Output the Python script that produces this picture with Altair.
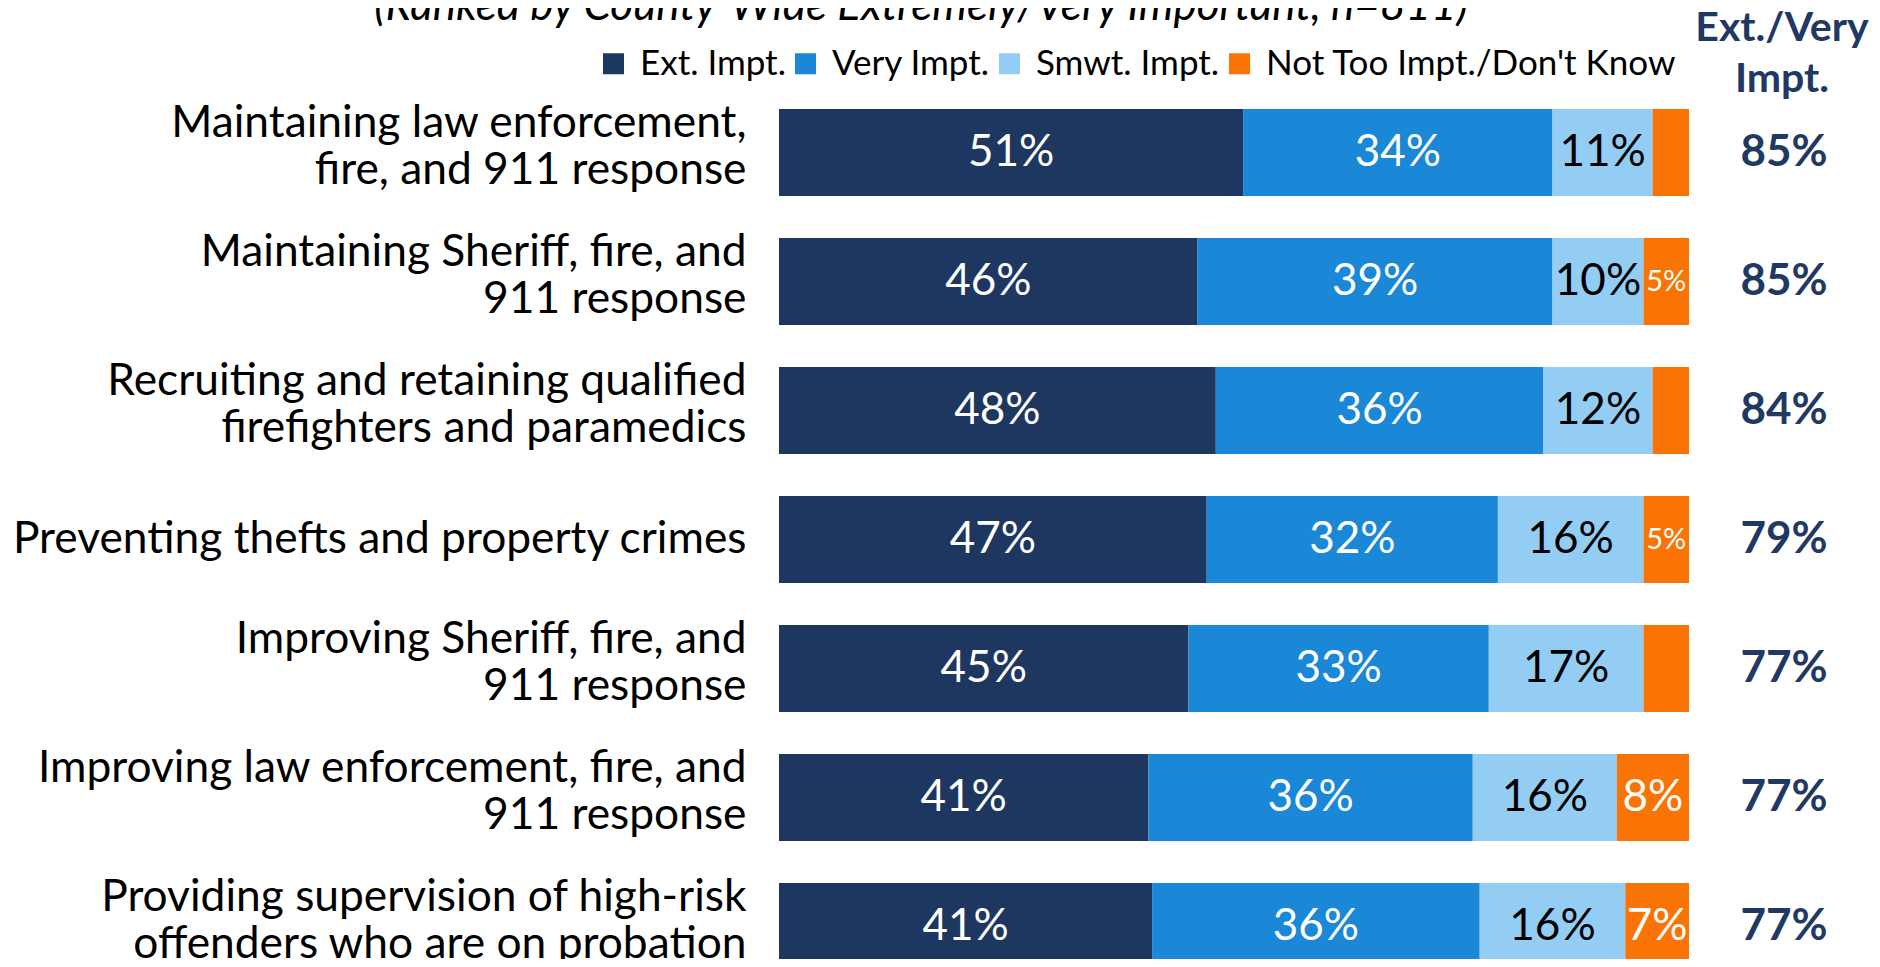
import altair as alt
import pandas as pd

categories = [
    "Maintaining law enforcement,\nfire, and 911 response",
    "Maintaining Sheriff, fire, and\n911 response",
    "Recruiting and retaining qualified\nfirefighters and paramedics",
    "Preventing thefts and property crimes",
    "Improving Sheriff, fire, and\n911 response",
    "Improving law enforcement, fire, and\n911 response",
    "Providing supervision of high-risk\noffenders who are on probation",
]
series_names = ["Ext. Impt.", "Very Impt.", "Smwt. Impt.", "Not Too Impt./Don't Know"]
ext_impt = [51, 46, 48, 47, 45, 41, 41]
very_impt = [34, 39, 36, 32, 33, 36, 36]
smwt_impt = [11, 10, 12, 16, 17, 16, 16]
not_too = [4, 5, 4, 5, 5, 8, 7]
not_too_labels = ["", "5%", "", "5%", "", "8%", "7%"]
ext_very_totals = [85, 85, 84, 79, 77, 77, 77]
title_text = "(Ranked by County-Wide Extremely/Very Important, n=811)"
header_text = "Ext./Very\nImpt."

bar_colors = ["#1E3760", "#1A88D7", "#93CDF3", "#FA7305"]
label_colors = ["#FFFFFF", "#FFFFFF", "#000000", "#FFFFFF"]
NAVY = "#1F3864"
FONT = "Lato"

rows = []
series_values = [ext_impt, very_impt, smwt_impt, not_too]
for i, cat in enumerate(categories):
    for j, name in enumerate(series_names):
        v = series_values[j][i]
        lab = not_too_labels[i] if j == 3 else f"{v}%"
        rows.append({"category": cat, "series": name, "order": j, "value": v, "label": lab})
df = pd.DataFrame(rows)

tot_df = pd.DataFrame({"category": categories, "total": ext_very_totals,
                       "tlabel": [f"{t}%" for t in ext_very_totals]})

yscale = alt.Scale(range=[0, 903], paddingInner=0.326, paddingOuter=0.163)
y_enc = alt.Y("category:N", sort=categories, scale=yscale,
              axis=alt.Axis(title=None, ticks=False, domain=False, labelFont=FONT,
                            labelFontSize=44.3, labelColor="#000000", labelPadding=33,
                            labelLimit=900, labelLineHeight=47,
                            labelOffset={"condition": {"test": "indexof(datum.label, '\\n') >= 0",
                                                       "value": -29},
                                         "value": 0},
                            labelExpr="split(datum.label, '\\n')"))
xscale = alt.Scale(domain=[0, 1])

base = alt.Chart(df).transform_stack(
    stack="value", groupby=["category"], sort=[alt.SortField("order")],
    as_=["x0", "x1"], offset="normalize"
).transform_calculate(mid="(datum.x0 + datum.x1) / 2")

bars = base.mark_bar().encode(
    x=alt.X("x0:Q", scale=xscale, axis=None),
    x2="x1:Q",
    y=y_enc,
    color=alt.Color("series:N", sort=series_names,
                    scale=alt.Scale(domain=series_names, range=bar_colors),
                    legend=alt.Legend(orient="none", legendX=-183, legendY=-42,
                                      direction="horizontal", columns=4, title=None,
                                      symbolType="square", symbolSize=441,
                                      symbolStrokeWidth=0, symbolOpacity=1,
                                      labelFont=FONT, labelFontSize=35, labelLimit=800,
                                      labelColor="#000000", labelOffset=9,
                                      columnPadding=2, padding=0)),
)

seg_text = base.mark_text(font=FONT, baseline="middle", align="center").encode(
    x=alt.X("mid:Q", scale=xscale, axis=None),
    y=alt.Y("category:N", sort=categories, scale=yscale),
    text="label:N",
    color=alt.Color("series:N", scale=alt.Scale(domain=series_names, range=label_colors),
                    legend=None),
    size=alt.condition("datum.order == 3 && datum.value <= 5", alt.value(29), alt.value(44)),
)

totals = alt.Chart(tot_df).mark_text(
    font=FONT, fontWeight="bold", fontSize=44, color=NAVY, baseline="middle", align="center"
).encode(
    x=alt.value(1005),
    y=alt.Y("category:N", sort=categories, scale=yscale),
    text="tlabel:N",
)

header = alt.Chart(pd.DataFrame({"t": [header_text]})).mark_text(
    font=FONT, fontWeight="bold", fontSize=41, color=NAVY, lineBreak="\n",
    lineHeight=51, align="center", baseline="alphabetic"
).encode(x=alt.value(1003), y=alt.value(-47), text="t:N")

title = alt.Chart(pd.DataFrame({"t": [title_text]})).mark_text(
    font=FONT, fontStyle="italic", fontSize=44, color="#000000",
    align="center", baseline="alphabetic"
).encode(x=alt.value(142), y=alt.value(-68), text="t:N")

chart = alt.layer(bars, seg_text, totals, header, title).resolve_scale(
    color="independent"
).properties(
    width=910, height=871,
    autosize=alt.AutoSizeParams(type="none"),
    padding={"left": 771, "top": 80, "right": 183, "bottom": 0},
    background="#FFFFFF",
).configure_view(stroke=None)

chart.save("out.html", embed_options={"renderer": "svg", "actions": False})
